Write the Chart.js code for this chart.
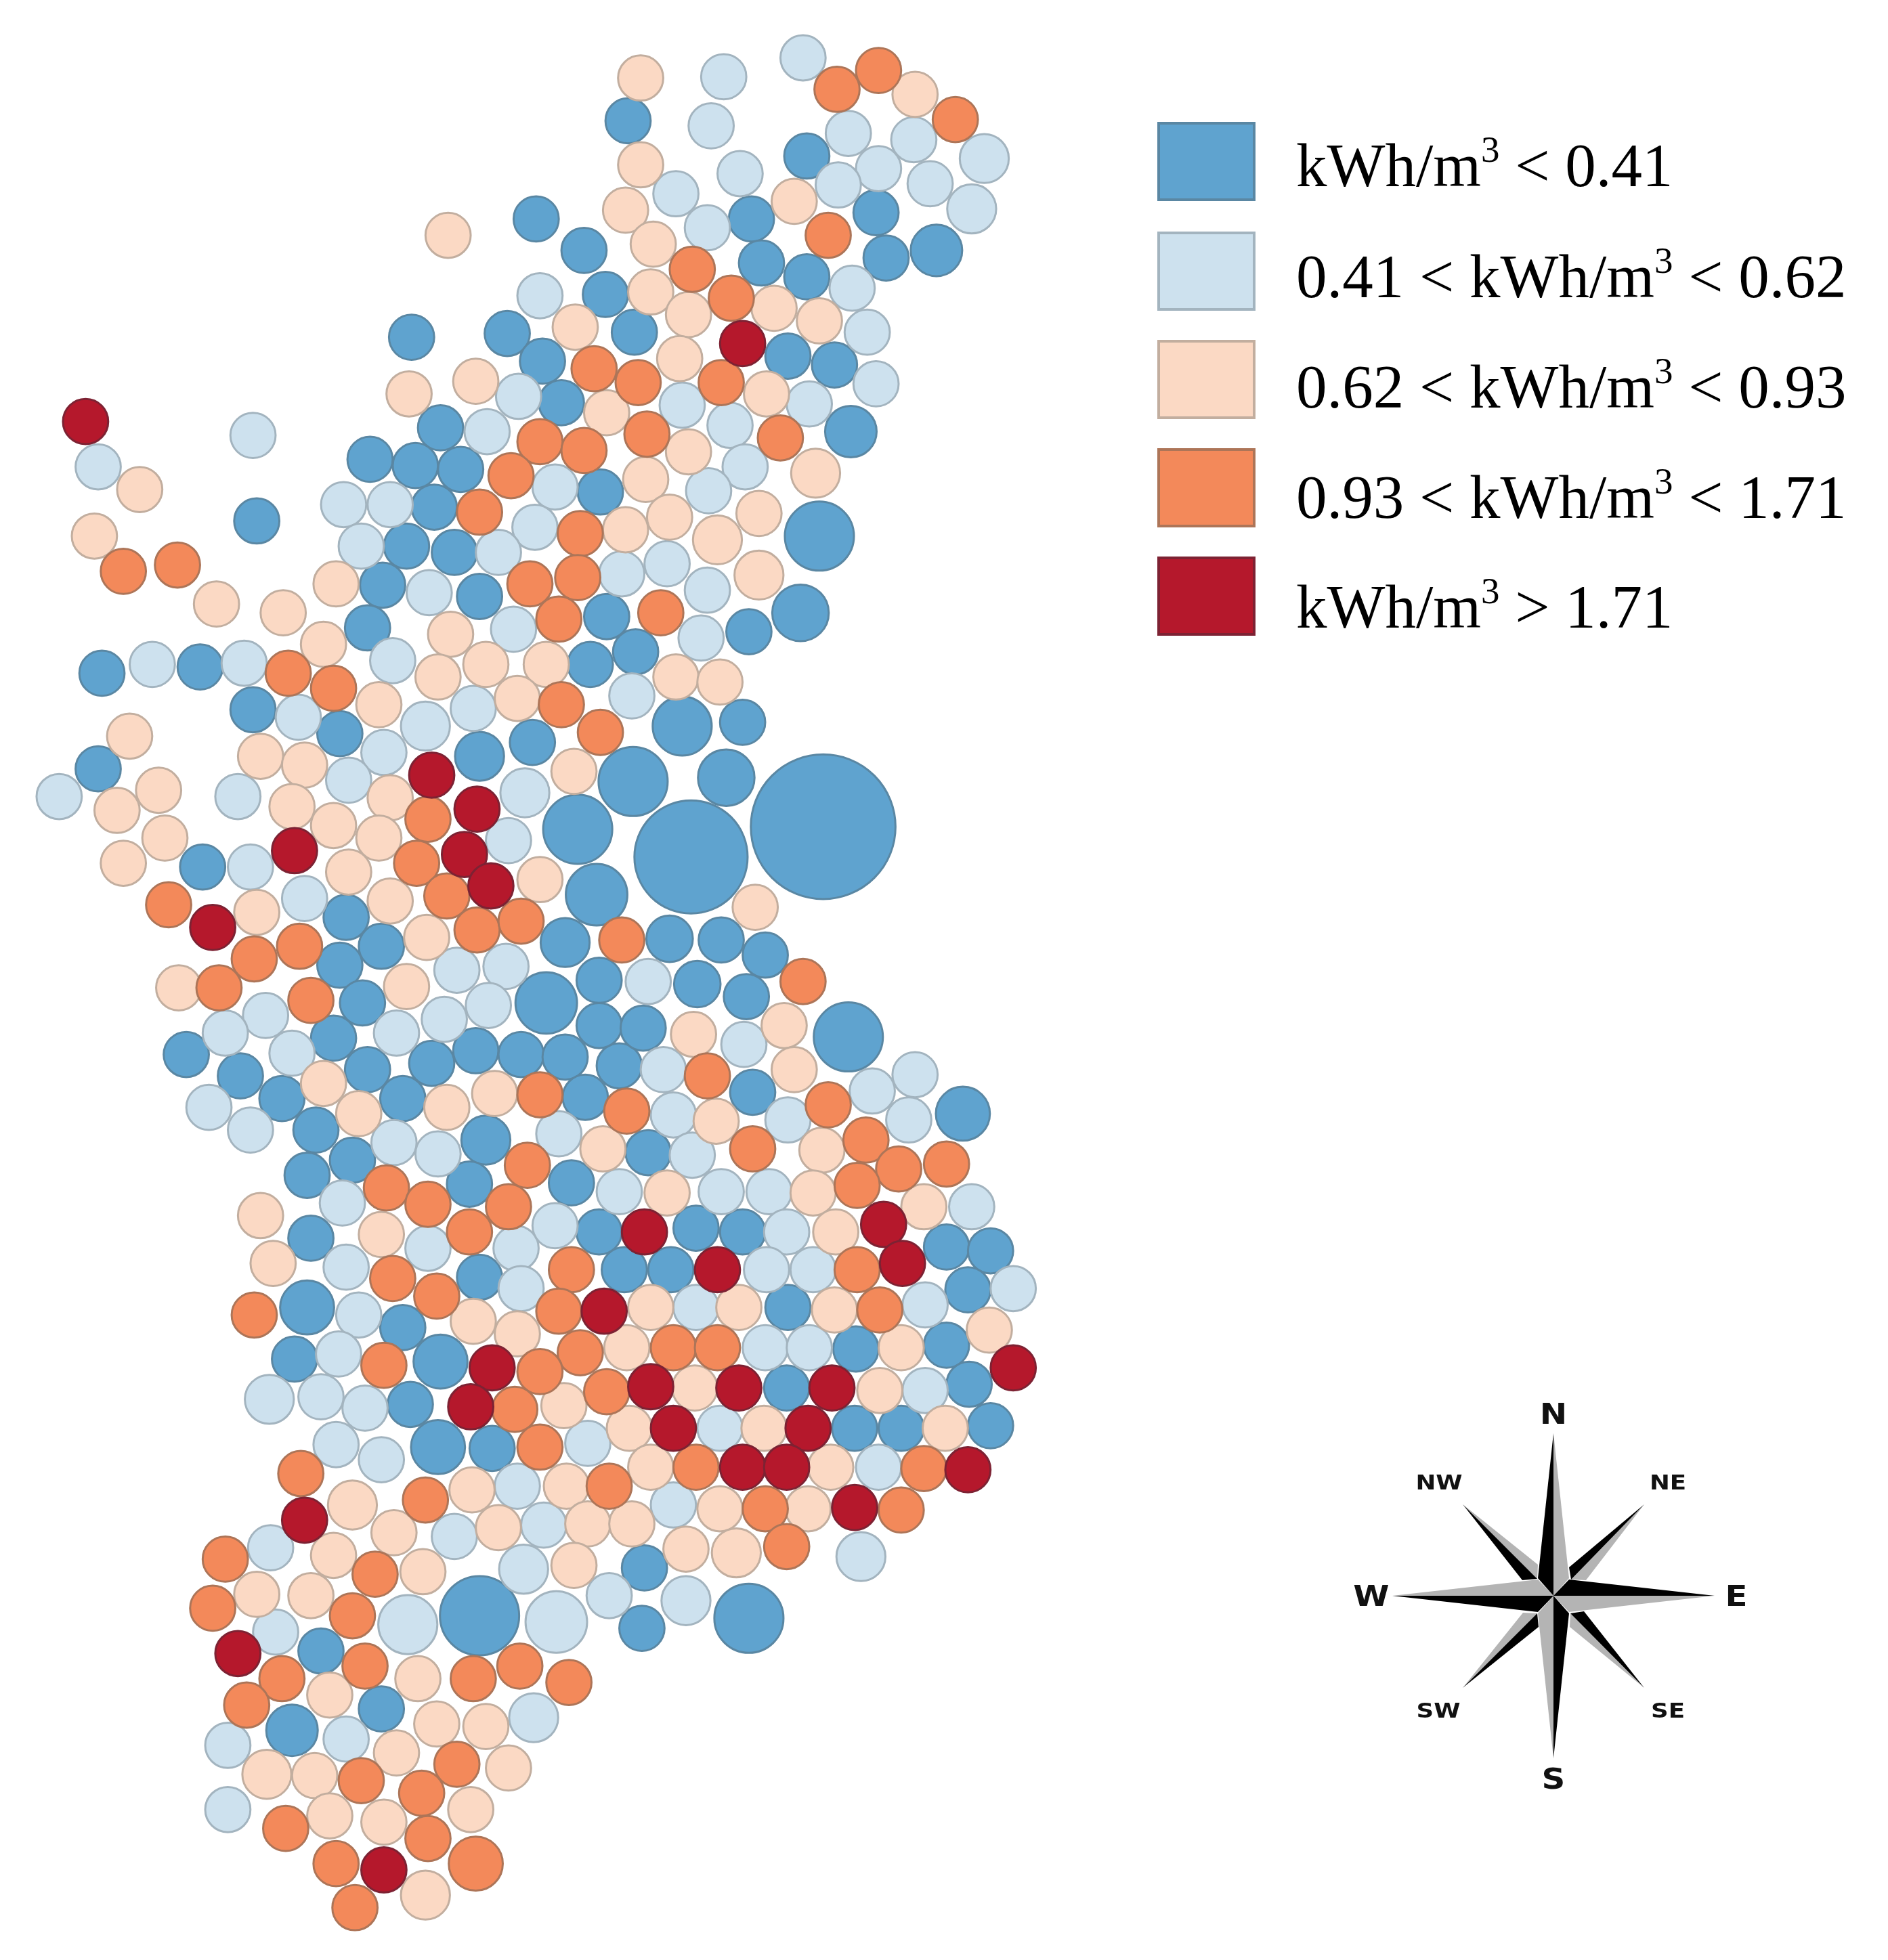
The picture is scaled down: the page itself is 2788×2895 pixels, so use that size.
<!DOCTYPE html>
<html>
<head>
<meta charset="utf-8">
<title>kWh/m3 map</title>
<script src="https://cdn.jsdelivr.net/npm/chart.js@4"></script>
<style>
	body { margin: 0; background: #fff; }
	#wrap { position: relative; width: 2788px; height: 2895px; overflow: hidden; }
	#myChart { position: absolute; left: 0; top: 0; }
	.swatch { position: absolute; left: 1709px; width: 137px; height: 109px; border: 4px solid; }
	.legendText { position: absolute; left: 1914px; font: 91px/91px "Liberation Serif", serif; color: #000; white-space: nowrap; }
	.legendText sup { font-size: 55px; line-height: 0; vertical-align: 36px; }
	.dir { position: absolute; transform: translate(-50%, -50%) scaleX(1.15); font-family: "DejaVu Sans", sans-serif; font-weight: bold; color: #111; }
</style>
</head>
<body>
<div id="wrap">
	<canvas id="myChart"></canvas>
</div>
<script>
// map position of every station, [x, y] or [x, y, size] when it is not the usual size
const lowPoints = [
	[499,96],[641,124],[696,169],[426,174],[464,199],[597,174],[605,209],[641,220],[704,205],[744,199,21],
	[481,234],[327,268],[403,265],[504,264],[626,283],[663,290],[431,287],[446,320],[676,343,21],[350,340],
	[294,365],[330,370],[366,373],[345,403],[477,391],[323,434],[361,439],[651,426,28],[304,465],[381,474],
	[636,487,23],[482,490],[595,502],[292,499],[505,518],[469,528],[81,535],[159,530],[204,414],[201,564],
	[270,583],[423,590],[381,601,20],[78,611],[590,574],[542,577,24],[503,621,28],[577,618,23],[459,659,28],
	[549,681,45.5],[654,657,58],[474,711,25],[161,689],[275,729],[303,752],[270,767],[288,797],[265,825],
	[148,838],[191,855],[224,873],[292,850],[320,873],[343,845],[378,835],[414,838],[449,840],[492,847],
	[465,872],[449,749,20],[476,779],[434,797,25],[476,815],[511,817],[532,746,19],[573,747],[608,759],
	[554,782,19],[593,792],[674,824,28],[598,868],[765,885,22],[515,916],[251,898],[280,922],[244,934],
	[386,906,20],[373,941],[454,940],[247,984],[476,979],[553,976],[590,979],[533,1009],[496,1009],[381,1015],
	[752,991],[787,994],[769,1025],[626,1039],[244,1039,22],[320,1055],[234,1080],[350,1082,22],[680,1072],
	[752,1069],[326,1116],[348,1150,22],[391,1151],[770,1100],[625,1103],[679,1135],[716,1135],[787,1133],
	[512,1246],[510,1294],[595,1286,28],[381,1284,32],[255,1312],[303,1358],[232,1375,21]
];
const midLowPoints = [
	[575,61],[638,46],[565,100],[674,106],[726,111],[782,126,20],[588,138],[698,134],[666,147],[739,146],
	[772,166,20],[537,154],[562,181],[429,235],[677,229],[689,264],[696,305],[412,315],[387,343],[542,322],
	[643,321],[580,338],[592,371],[441,387],[563,390],[310,401],[273,401],[425,419],[287,434],[396,439],
	[494,456],[530,448],[562,469],[341,471],[408,500],[557,507],[312,525],[201,346],[78,371],[121,528],
	[194,527],[237,570],[305,598],[338,577,20],[376,563],[277,620],[47,633],[189,633],[417,630,20],[404,668],
	[199,689],[242,714],[363,771],[402,768],[515,780],[388,799],[353,810],[315,821],[502,553],[211,807],
	[179,821],[232,837],[166,880],[199,898],[313,908],[348,917],[444,901],[492,947],[272,956],[340,992],
	[410,992],[441,974],[275,1007],[414,1024],[285,1045],[591,830],[527,850],[693,867],[727,854],[535,886],
	[626,890],[722,890],[550,918],[573,947],[611,947],[625,979],[772,959],[609,1009],[646,1009],[805,1024],
	[553,1039],[735,1037],[269,1076],[214,1112,20],[255,1110],[290,1119],[267,1148],[303,1160],[411,1181],
	[467,1147],[608,1071],[643,1071],[735,1105],[572,1135],[698,1166],[535,1196],[684,1237,20],[545,1272,20],
	[361,1221],[432,1212],[215,1230],[416,1247,20],[484,1268],[442,1289,25],[324,1291,24],[219,1297],
	[424,1365,20],[275,1382],[181,1387],[181,1438]
];
const midPoints = [
	[509,62],[727,75],[509,131],[497,167],[519,194],[356,187],[631,160],[517,232],[547,250],[615,245],
	[651,255],[457,260],[540,285],[378,303],[325,313],[609,313],[482,328],[547,359],[513,381],[648,376,20],
	[497,421],[532,411],[603,408],[570,429,20],[603,457,20],[358,504],[386,528],[434,528],[348,538],[537,538],
	[572,542],[111,389],[75,426],[172,480],[225,487],[267,464],[257,512],[411,555],[301,560],[103,585],
	[207,601],[242,608],[126,628],[93,644],[131,666],[98,686],[232,641],[310,634],[265,656],[301,666],
	[277,693],[310,716],[204,725],[339,745],[429,699],[456,613],[323,784],[142,785],[257,861],[285,885],
	[355,880],[393,869],[479,913],[207,966],[303,981],[217,1004],[600,721],[551,822],[623,815],[631,850],
	[569,891],[653,914],[530,948],[646,948],[734,959],[664,979],[517,1039],[587,1039],[663,1041],[786,1057],
	[716,1071],[376,1050],[411,1060],[498,1071],[552,1103],[699,1105],[448,1117],[500,1135],[607,1135],
	[751,1135],[517,1166],[660,1166],[375,1184],[450,1181],[280,1196,20],[396,1214],[467,1211],[502,1211],
	[313,1218],[572,1199],[642,1199],[545,1231],[585,1234,20],[265,1236],[336,1249],[456,1244],[204,1267],
	[247,1268],[332,1334],[262,1347],[347,1370],[386,1372],[315,1393],[212,1410,20],[250,1411],[404,1405],
	[262,1443],[305,1448],[374,1438],[338,1506,20]
];
const midHighPoints = [
	[698,56],[665,71],[759,95],[658,187],[550,214],[581,237],[472,293],[507,304],[573,304],[429,351],
	[464,358],[514,345],[620,348],[406,378],[381,407],[461,424],[459,459],[421,464],[444,492],[525,487],
	[98,454],[141,449],[229,535],[265,547],[446,560],[477,582],[340,651],[331,686],[355,712],[379,739],
	[414,732],[134,719],[238,752],[202,762],[174,785],[247,795],[494,747],[429,870],[498,883],[419,926],
	[307,944],[340,957],[404,959],[373,979],[312,1016],[347,1030],[454,1009],[444,1042],[202,1045],[461,1075],
	[638,780],[562,855],[658,878],[598,913],[688,906],[714,929],[752,925],[681,942],[681,1009],[699,1041],
	[535,1071],[570,1071],[305,1085],[429,1090],[482,1106],[409,1120],[429,1150],[484,1181],[338,1192],
	[239,1171],[179,1239],[298,1251],[169,1278],[280,1284],[290,1324],[224,1334],[196,1355],[376,1334],
	[413,1324],[452,1337],[553,1166],[734,1167],[608,1199],[716,1200],[625,1229],[363,1402],[335,1425],
	[287,1415],[227,1453],[340,1461],[267,1481],[378,1481,22],[282,1516]
];
const highPoints = [
	[68,335],[590,273],[343,616],[379,643],[234,676],[369,679],[390,704],[169,737],[512,979],[702,973],
	[717,1004],[570,1009],[480,1042],[391,1087],[374,1118],[517,1102],[587,1103],[661,1103],[535,1135],
	[642,1135],[590,1166],[625,1166],[769,1168],[805,1087],[679,1198],[242,1208],[189,1314],[305,1486]
];

const legendLabels = [
	'kWh/m<sup>3</sup> &lt; 0.41',
	'0.41 &lt; kWh/m<sup>3</sup> &lt; 0.62',
	'0.62 &lt; kWh/m<sup>3</sup> &lt; 0.93',
	'0.93 &lt; kWh/m<sup>3</sup> &lt; 1.71',
	'kWh/m<sup>3</sup> &gt; 1.71'
];
const fillColors = ['#5fa3cf', '#cde1ee', '#fbd9c4', '#f3895a', '#b5182c'];
const edgeColors = ['#5a87a3', '#a3b4bf', '#c2ae9f', '#ad7558', '#7d2233'];

// the picture is 2788 wide, the map units are 1500 wide
const pxPerUnit = 2788 / 1500;
const usualSize = 18.5;

function toBubbles(points) {
	return points.map(function(p) {
		return { x: p[0], y: p[1], r: (p[2] || usualSize) * pxPerUnit - 1 };
	});
}

// compass rose, offsets from its centre
const compassCentre = [2294, 2357];
const compassDark = [
	[[23,-42],[134,-135],[26,-24]], [[-46,-23],[-134,-135],[-24,-25]],
	[[45,23],[134,136],[25,26]], [[-24,26],[-134,136],[-22,46]],
	[[0,0],[0,-240],[-23,-26]], [[0,0],[238,0],[23,-24]],
	[[0,0],[0,240],[23,26]], [[0,0],[-238,0],[-23,24]]
];
const compassLight = [
	[[26,-24],[134,-135],[48,-23]], [[-24,-25],[-134,-135],[-23,-46]],
	[[25,26],[134,136],[24,46]], [[-45,25],[-134,136],[-24,26]],
	[[0,0],[0,-240],[23,-26]], [[0,0],[238,0],[23,24]],
	[[0,0],[0,240],[-23,26]], [[0,0],[-238,0],[-23,-24]]
];
const compassLabels = [
	['N', 2294, 2088, 42], ['S', 2294, 2627, 42], ['W', 2025, 2357, 42], ['E', 2564, 2357, 42],
	['NW', 2125, 2189, 31], ['NE', 2463, 2189, 31], ['SW', 2124, 2526, 31], ['SE', 2463, 2526, 31]
];

const compassPlugin = {
	id: 'compass',
	afterDraw: function(chart) {
		const c = chart.ctx;
		function fillAll(list, color) {
			c.fillStyle = color;
			list.forEach(function(tri) {
				c.beginPath();
				tri.forEach(function(p, i) {
					if (i == 0) c.moveTo(compassCentre[0] + p[0], compassCentre[1] + p[1]);
					else c.lineTo(compassCentre[0] + p[0], compassCentre[1] + p[1]);
				});
				c.closePath();
				c.fill();
			});
		}
		c.save();
		fillAll(compassLight, '#b4b4b4');
		fillAll(compassDark, '#000000');
		c.restore();
	}
};

const allPoints = [highPoints, midHighPoints, midPoints, midLowPoints, lowPoints];
const colorIndex = [4, 3, 2, 1, 0];

const ctx = document.getElementById('myChart');
ctx.width = 2788;
ctx.height = 2895;

new Chart(ctx, {
	type: 'bubble',
	data: {
		datasets: allPoints.map(function(points, i) {
			return {
				label: legendLabels[colorIndex[i]],
				data: toBubbles(points),
				backgroundColor: fillColors[colorIndex[i]],
				borderColor: edgeColors[colorIndex[i]],
				borderWidth: 3
			};
		})
	},
	options: {
		responsive: false,
		animation: false,
		devicePixelRatio: 1,
		layout: { autoPadding: false, padding: 0 },
		plugins: { legend: { display: false }, tooltip: { enabled: false } },
		scales: {
			x: { display: false, min: 0, max: 1500 },
			y: { display: false, min: 0, max: 2895 / pxPerUnit, reverse: true }
		}
	},
	plugins: [compassPlugin]
});

// legend and compass letters as page text
const wrap = document.getElementById('wrap');
const swatchTops = [180, 342, 502, 662, 822];
const textBaselines = [272, 436, 599, 762, 924];
legendLabels.forEach(function(label, i) {
	const box = document.createElement('div');
	box.className = 'swatch';
	box.style.top = swatchTops[i] + 'px';
	box.style.background = fillColors[i];
	box.style.borderColor = edgeColors[i];
	wrap.appendChild(box);
	const txt = document.createElement('div');
	txt.className = 'legendText';
	txt.style.top = (textBaselines[i] - 73) + 'px';
	txt.innerHTML = label;
	wrap.appendChild(txt);
});
compassLabels.forEach(function(d) {
	const el = document.createElement('div');
	el.className = 'dir';
	el.textContent = d[0];
	el.style.left = d[1] + 'px';
	el.style.top = d[2] + 'px';
	el.style.fontSize = d[3] + 'px';
	wrap.appendChild(el);
});
</script>
</body>
</html>
